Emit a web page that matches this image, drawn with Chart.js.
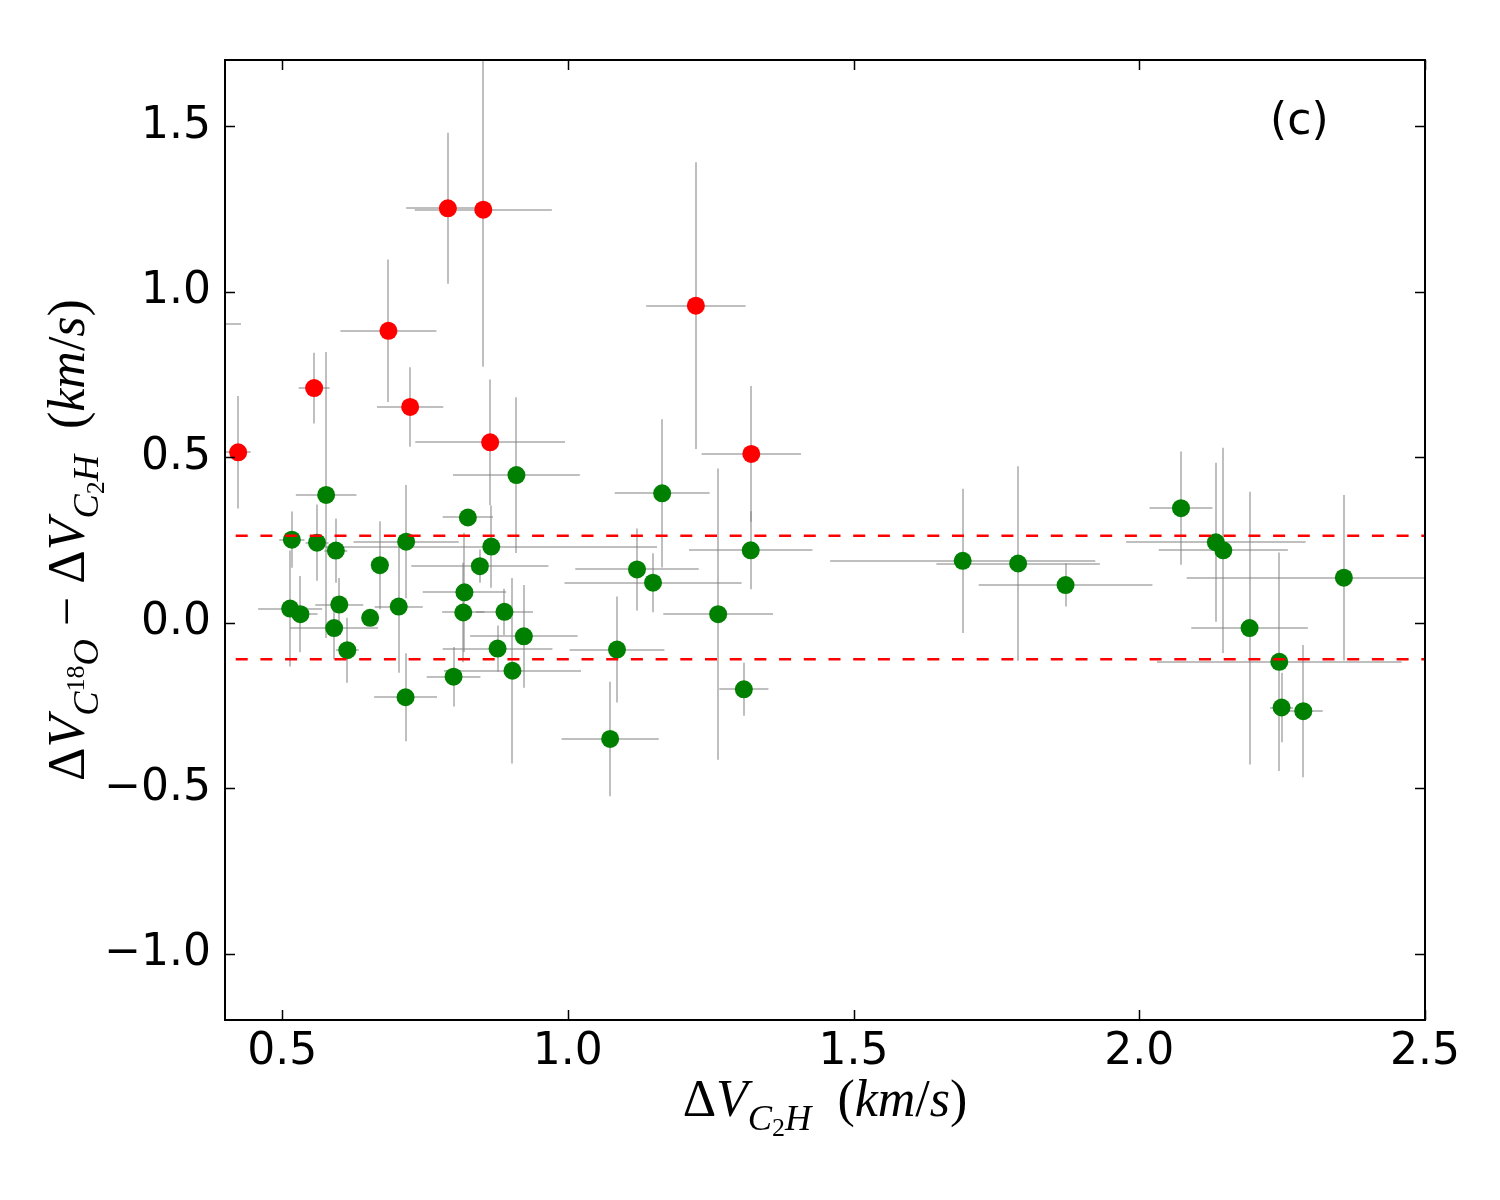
<!DOCTYPE html>
<html><head><meta charset="utf-8">
<script src="https://cdn.jsdelivr.net/npm/chart.js@4/dist/chart.umd.min.js"></script>
<style>html,body{margin:0;padding:0;background:#fff;}#wrap{width:1500px;height:1200px;}</style>
</head><body><div id="wrap"><canvas id="c" width="1500" height="1200"></canvas></div>
<script>
// ---- data ----
const redX    = [0.370, 0.423, 0.556, 0.686, 0.724, 0.790, 0.852, 0.864, 1.224, 1.321];
const redY    = [0.903, 0.515, 0.709, 0.882, 0.652, 1.252, 1.248, 0.545, 0.958, 0.510];
const redXErr = [0.058, 0.022, 0.027, 0.084, 0.058, 0.073, 0.120, 0.131, 0.087, 0.087];
const redYErr = [0.100, 0.170, 0.107, 0.215, 0.120, 0.228, 0.475, 0.190, 0.433, 0.205];

const greenX    = [0.517,0.561,0.594,0.577,0.671,0.717,0.514,0.532,0.600,0.591,0.614,0.654,0.704,0.716,0.825,0.910,0.866,0.846,0.819,0.817,0.889,0.923,0.877,0.903,0.800,1.086,1.074,1.165,1.121,1.149,1.263,1.320,1.308,1.691,1.788,1.871,2.073,2.134,2.147,2.193,2.245,2.249,2.287,2.358];
const greenY    = [0.251,0.242,0.218,0.386,0.174,0.245,0.043,0.026,0.055,-0.016,-0.083,0.015,0.049,-0.225,0.318,0.446,0.230,0.171,0.092,0.031,0.033,-0.041,-0.078,-0.145,-0.163,-0.081,-0.351,0.391,0.161,0.121,0.026,0.219,-0.201,0.187,0.179,0.114,0.346,0.243,0.219,-0.016,-0.118,-0.256,-0.267,0.136];
const greenXErr = [0.022,0.020,0.020,0.053,0.016,0.092,0.056,0.030,0.042,0.077,0.020,0.005,0.042,0.055,0.044,0.111,0.290,0.120,0.073,0.037,0.050,0.094,0.096,0.120,0.047,0.083,0.085,0.083,0.108,0.155,0.096,0.108,0.043,0.232,0.143,0.152,0.055,0.157,0.113,0.102,0.214,0.020,0.034,0.275];
const greenYErr = [0.085,0.115,0.097,0.432,0.133,0.171,0.175,0.115,0.080,0.095,0.098,0.010,0.200,0.133,0.020,0.235,0.124,0.050,0.180,0.150,0.070,0.155,0.070,0.280,0.090,0.160,0.173,0.224,0.124,0.089,0.440,0.118,0.080,0.218,0.294,0.065,0.171,0.240,0.310,0.412,0.330,0.105,0.200,0.250];

const limitLines = [0.263, -0.110];
const xTicks = [0.5, 1.0, 1.5, 2.0, 2.5];
const yTicks = [-1.0, -0.5, 0.0, 0.5, 1.0, 1.5];
const xRange = [0.4, 2.5];
const yRange = [-1.2, 1.7];
const panelLabel = '(c)';
const panelLabelAt = [2.28, 1.512];

// axis titles: [text, italic, sizeScale, baselineShift(em, +down)]
const xTitleParts = [['Δ',false,1,0],['V',true,1,0],['C',true,0.7,0.26],['2',false,0.5,0.38],['H',true,0.7,0.26],['  (',false,1,0],['km',true,1,0],['/',false,1,0],['s',true,1,0],[')',false,1,0]];
const yTitleParts = [['Δ',false,1,0],['V',true,1,0],['C',true,0.7,0.26],['18',false,0.5,0.0],['O',true,0.7,0.26],[' − ',false,1,0],['Δ',false,1,0],['V',true,1,0],['C',true,0.7,0.26],['2',false,0.5,0.38],['H',true,0.7,0.26],['  (',false,1,0],['km',true,1,0],['/',false,1,0],['s',true,1,0],[')',false,1,0]];

const toPts = (xs, ys) => xs.map((v, i) => ({x: v, y: ys[i]}));
const TITLE_FONT = '"Liberation Serif", "DejaVu Serif", serif';
const TITLE_SIZE = 52;

function measureParts(ctx, parts, size){
  let w = 0;
  for (const [t, it, sc] of parts){
    ctx.font = (it ? 'italic ' : '') + (size*sc) + 'px ' + TITLE_FONT;
    w += ctx.measureText(t).width;
  }
  return w;
}
function drawParts(ctx, parts, size, cx, cy){
  const w = measureParts(ctx, parts, size);
  let x = cx - w/2;
  ctx.textBaseline = 'alphabetic';
  ctx.textAlign = 'left';
  for (const [t, it, sc, sh] of parts){
    ctx.font = (it ? 'italic ' : '') + (size*sc) + 'px ' + TITLE_FONT;
    ctx.fillText(t, x, cy + sh*size);
    x += ctx.measureText(t).width;
  }
}

const decor = {
  id: 'decor',
  beforeDatasetsDraw(chart){
    const {ctx, chartArea: a, scales: {x, y}} = chart;
    ctx.save();
    ctx.beginPath(); ctx.rect(a.left, a.top, a.right - a.left, a.bottom - a.top); ctx.clip();
    ctx.strokeStyle = 'rgba(128,128,128,0.5)';
    ctx.lineWidth = 2;
    const bars = (xs, ys, xe, ye) => {
      for (let i = 0; i < xs.length; i++){
        const px = Math.round(x.getPixelForValue(xs[i])), py = Math.round(y.getPixelForValue(ys[i]));
        ctx.beginPath();
        ctx.moveTo(x.getPixelForValue(xs[i]-xe[i]), py);
        ctx.lineTo(x.getPixelForValue(xs[i]+xe[i]), py);
        ctx.stroke();
        ctx.beginPath();
        ctx.moveTo(px, y.getPixelForValue(ys[i]-ye[i]));
        ctx.lineTo(px, y.getPixelForValue(ys[i]+ye[i]));
        ctx.stroke();
      }
    };
    bars(greenX, greenY, greenXErr, greenYErr);
    bars(redX, redY, redXErr, redYErr);
    ctx.restore();
  },
  afterDraw(chart){
    const {ctx, chartArea: a, scales: {x, y}} = chart;
    ctx.save();
    ctx.strokeStyle = '#000';
    ctx.lineWidth = 2;
    ctx.strokeRect(a.left, a.top, a.right - a.left, a.bottom - a.top);
    const TL = 10;
    ctx.lineWidth = 1.5;
    ctx.beginPath();
    for (const v of xTicks){
      const px = Math.round(x.getPixelForValue(v)) + 0.5;
      ctx.moveTo(px, a.bottom); ctx.lineTo(px, a.bottom - TL);
      ctx.moveTo(px, a.top); ctx.lineTo(px, a.top + TL);
    }
    for (const v of yTicks){
      const py = Math.round(y.getPixelForValue(v)) + 0.5;
      ctx.moveTo(a.left, py); ctx.lineTo(a.left + TL, py);
      ctx.moveTo(a.right, py); ctx.lineTo(a.right - TL, py);
    }
    ctx.stroke();
    // panel label
    ctx.fillStyle = '#000';
    ctx.font = '44px "DejaVu Sans"';
    ctx.textAlign = 'center'; ctx.textBaseline = 'middle';
    ctx.fillText(panelLabel, x.getPixelForValue(panelLabelAt[0]), y.getPixelForValue(panelLabelAt[1]));
    // axis titles
    drawParts(ctx, xTitleParts, TITLE_SIZE, (a.left + a.right)/2, 1116);
    ctx.translate(84, (a.top + a.bottom)/2);
    ctx.rotate(-Math.PI/2);
    drawParts(ctx, yTitleParts, TITLE_SIZE, 0, 0);
    ctx.restore();
  }
};

const fmt = v => v.toFixed(1).replace('-', '\u2212');

new Chart(document.getElementById('c'), {
  type: 'scatter',
  data: {
    datasets: [
      {data: toPts(greenX, greenY), backgroundColor: '#008000', borderWidth: 0, pointRadius: 9, pointHoverRadius: 9, order: 2},
      {data: toPts(redX, redY), backgroundColor: '#ff0000', borderWidth: 0, pointRadius: 9, pointHoverRadius: 9, order: 1},
      ...limitLines.map(v => ({type: 'line', data: [{x: xRange[0], y: v}, {x: xRange[1], y: v}], borderColor: '#ff0000', borderWidth: 2.5, borderDash: [12, 12.7], borderDashOffset: 14, pointRadius: 0, fill: false, order: 0}))
    ]
  },
  options: {
    responsive: false, animation: false, devicePixelRatio: 1,
    layout: {padding: {left: 0, top: 60, right: 75, bottom: 0}},
    plugins: {legend: {display: false}, tooltip: {enabled: false}},
    events: [],
    scales: {
      x: {
        type: 'linear', min: xRange[0], max: xRange[1],
        afterBuildTicks: s => { s.ticks = xTicks.map(v => ({value: v})); },
        afterFit: s => { s.height = 180; },
        grid: {display: false, drawTicks: false}, border: {display: false},
        ticks: {font: {family: 'DejaVu Sans', size: 44}, color: '#000', padding: 6, maxRotation: 0, callback: v => fmt(v)}
      },
      y: {
        type: 'linear', min: yRange[0], max: yRange[1],
        afterBuildTicks: s => { s.ticks = yTicks.map(v => ({value: v})); },
        afterFit: s => { s.width = 225; },
        grid: {display: false, drawTicks: false}, border: {display: false},
        ticks: {font: {family: 'DejaVu Sans', size: 44}, color: '#000', padding: 14, callback: v => fmt(v)}
      }
    }
  },
  plugins: [decor]
});
</script></body></html>
